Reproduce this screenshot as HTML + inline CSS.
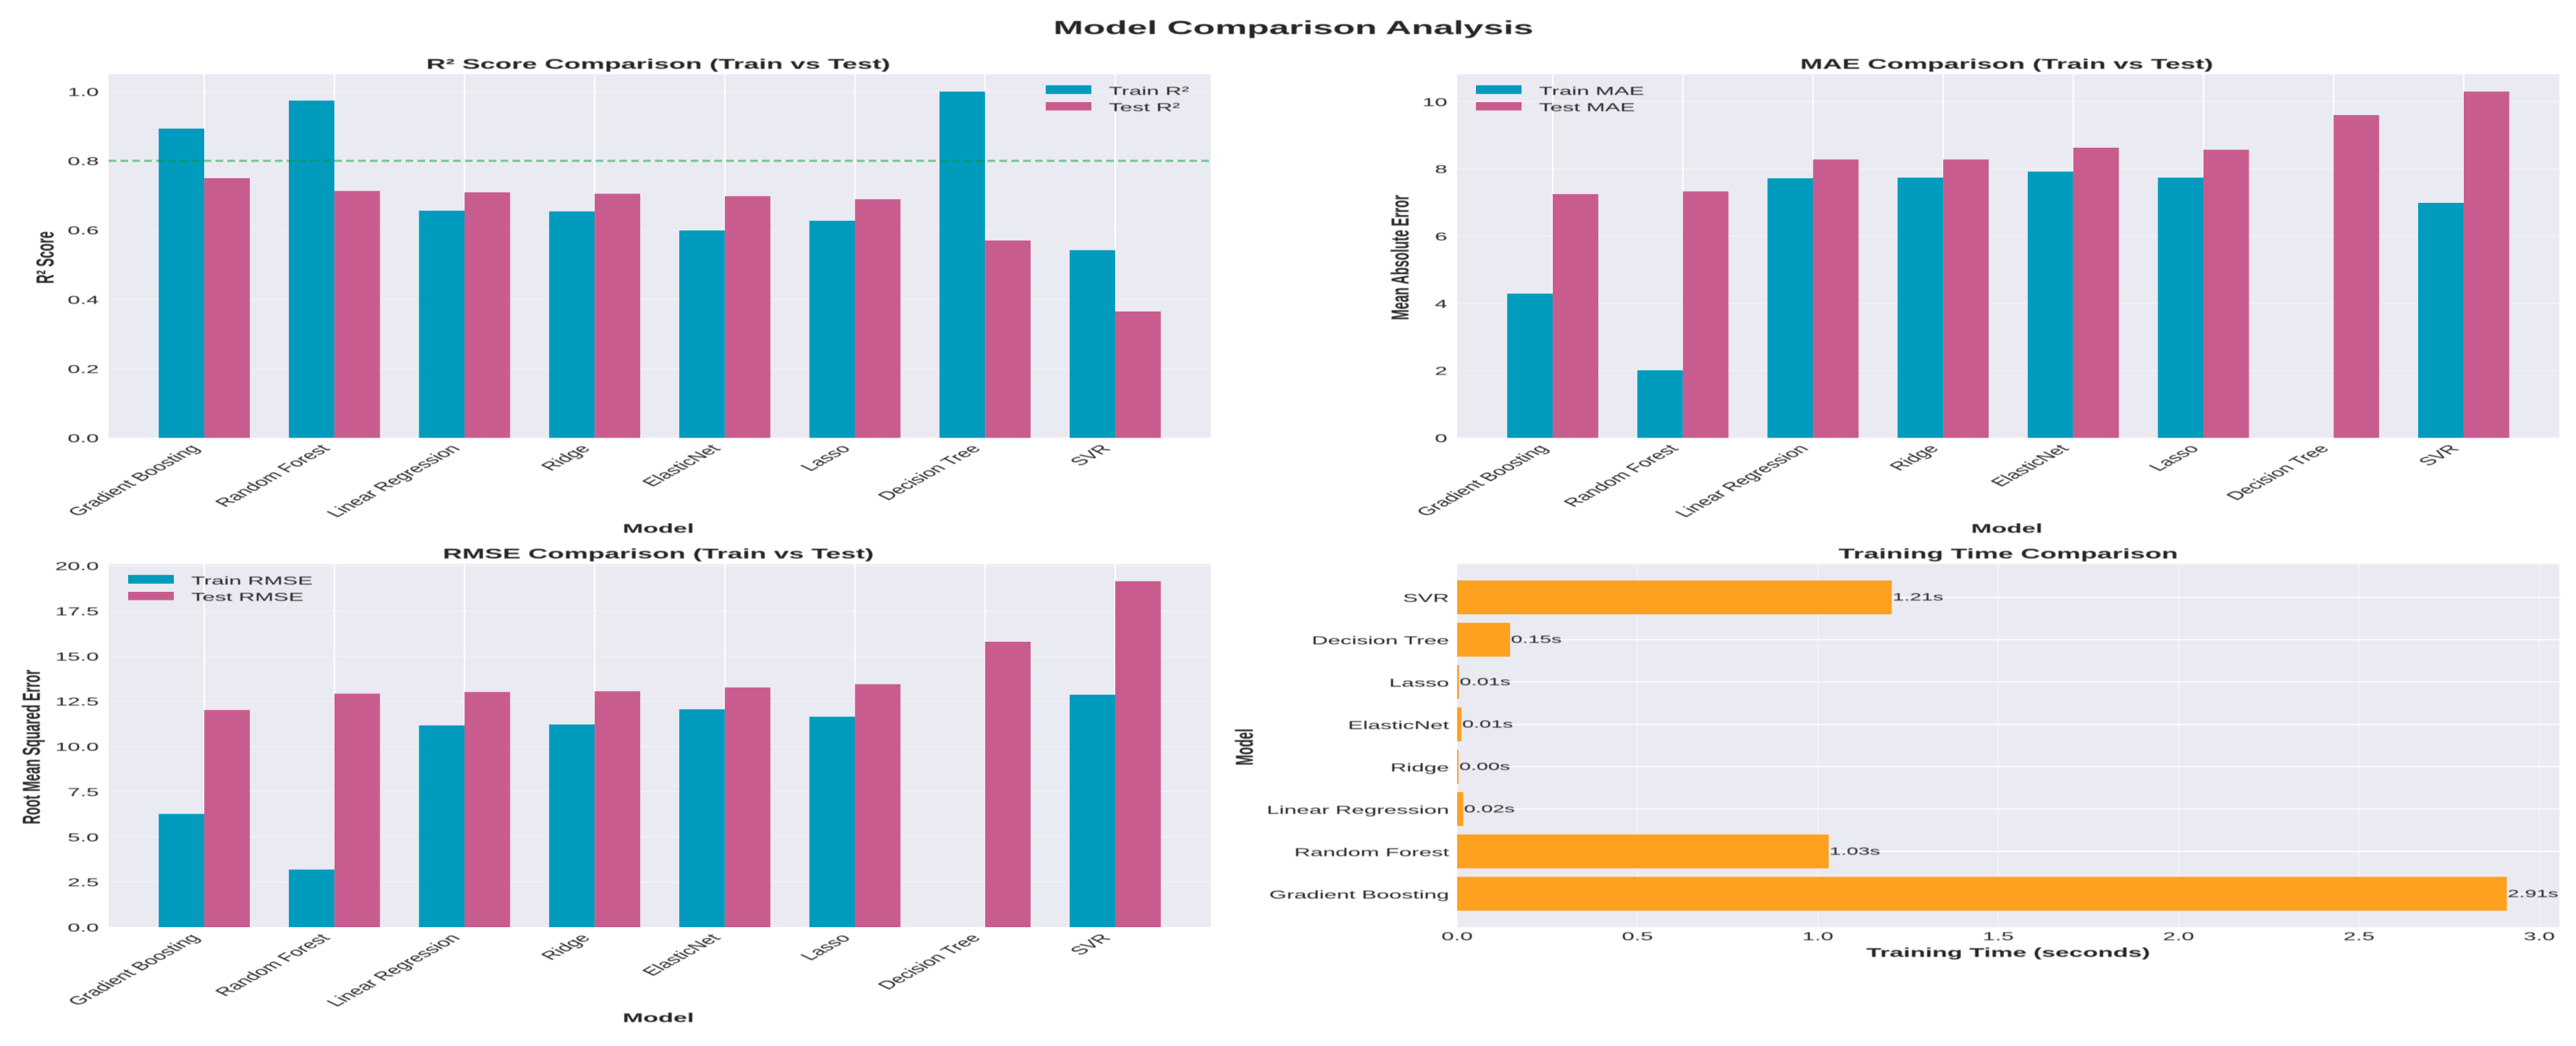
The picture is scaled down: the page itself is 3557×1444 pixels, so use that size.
<!DOCTYPE html>
<html lang="en">
<head>
<meta charset="utf-8">
<title>Model Comparison Analysis</title>
<style>
html,body{margin:0;padding:0;background:#fff;}
svg{display:block;}
text{font-family:"Liberation Sans",Arial,sans-serif;fill:#262626;}
#text-layer{filter:blur(0.55px);}
</style>
</head>
<body>
<svg id="figure" xmlns="http://www.w3.org/2000/svg" width="3557" height="1444" viewBox="0 0 3557 1444">
  <rect x="0" y="0" width="3557" height="1444" fill="#ffffff"/>
  <g id="marks-layer"></g>
  <g id="text-layer">
    <text transform="translate(1786,47) scale(1.94,1)" text-anchor="middle" font-size="25.6" font-weight="bold">Model Comparison Analysis</text>
  </g>
</svg>
<script>
// ---- chart data ----
const categories = ["Gradient Boosting","Random Forest","Linear Regression","Ridge","ElasticNet","Lasso","Decision Tree","SVR"];
const r2Train = [0.893,0.974,0.656,0.654,0.599,0.627,1.0,0.542];
const r2Test = [0.750,0.713,0.709,0.705,0.698,0.689,0.570,0.365];
const maeTrain = [4.29,2.01,7.72,7.74,7.92,7.74,0,6.99];
const maeTest = [7.25,7.33,8.28,8.28,8.63,8.57,9.60,10.30];
const rmseTrain = [6.27,3.19,11.17,11.22,12.06,11.65,0,12.87];
const rmseTest = [12.02,12.93,13.02,13.06,13.27,13.45,15.80,19.15];
const trainingTimes = [2.91,1.03,0.017,0.004,0.012,0.0051,0.147,1.205];
const r2Ticks = ["0.0","0.2","0.4","0.6","0.8","1.0"];
const maeTicks = ["0","2","4","6","8","10"];
const rmseTicks = ["0.0","2.5","5.0","7.5","10.0","12.5","15.0","17.5","20.0"];
const timeTicks = ["0.0","0.5","1.0","1.5","2.0","2.5","3.0"];
const r2Target = 0.8;

// ---- layout constants ----
const SX = 1.94;
const NS = "http://www.w3.org/2000/svg";
const marks = document.getElementById("marks-layer");
const texts = document.getElementById("text-layer");
const TEAL = "#009bbd", PINK = "#c95c8e", ORANGE = "#ffa120", PANEL = "#eaeaf2";
const BAR_WIDTH = 0.35;
const TICK_FONT = 16, LEGEND_FONT = 16, AXIS_FONT = 17.6, TITLE_FONT = 19.2, VALUE_FONT = 14.8;

function shape(tag, attrs, parent) {
  const n = document.createElementNS(NS, tag);
  for (const k in attrs) n.setAttribute(k, attrs[k]);
  (parent || marks).appendChild(n);
  return n;
}
function label(str, x, y, size, anchor, bold, rot) {
  const n = document.createElementNS(NS, "text");
  n.setAttribute("transform", "translate(" + x + "," + y + ") scale(" + SX + ",1)" + (rot ? " rotate(" + rot + ")" : ""));
  n.setAttribute("font-size", size);
  n.setAttribute("text-anchor", anchor);
  if (bold) n.setAttribute("font-weight", "bold");
  n.textContent = str;
  texts.appendChild(n);
  return n;
}
function maxOf(a, b) { return Math.max.apply(null, a.concat(b || [])); }

function drawGrouped(box, train, test, ticks, title, yLabel, yLabelX, legendBox, legendNames) {
  const width = box.right - box.left, height = box.bottom - box.top;
  const xMin = -BAR_WIDTH - 0.05 * (categories.length - 1 + 2 * BAR_WIDTH);
  const xMax = categories.length - 1 + BAR_WIDTH + 0.05 * (categories.length - 1 + 2 * BAR_WIDTH);
  const yMax = maxOf(train, test) * 1.05;
  const xScale = v => box.left + (v - xMin) / (xMax - xMin) * width;
  const yScale = v => box.bottom - v / yMax * height;

  const bg = shape("rect", {x: box.left, y: box.top, width: width, height: height, fill: PANEL});
  
  

  ticks.forEach(t => {
    const y = yScale(parseFloat(t));
    const g = shape("line", {x1: box.left, x2: box.right, y1: y, y2: y, stroke: "#ffffff", "stroke-opacity": 0.4, "stroke-width": 1.3});
    
    
    const tl = label(t, box.left - 13.5, y + 6, TICK_FONT, "end", false);
    
    
  });

  categories.forEach((c, i) => {
    const x = xScale(i);
    const v = shape("line", {x1: x, x2: x, y1: box.top, y2: box.bottom, stroke: "#ffffff", "stroke-width": 2});
    
    
    const barW = BAR_WIDTH / (xMax - xMin) * width;
    if (train[i] > 0) {
      const a = shape("rect", {x: x - barW, y: yScale(train[i]), width: barW, height: box.bottom - yScale(train[i]), fill: TEAL});
      
      
    }
    const b = shape("rect", {x: x, y: yScale(test[i]), width: barW, height: box.bottom - yScale(test[i]), fill: PINK});
    
    
    const tl = label(c, x - 5, box.bottom + 15.5, TICK_FONT, "end", false, -47);
    
    
  });

  const tt = label(title, (box.left + box.right) / 2 - 2, box.top - 7.5, TITLE_FONT, "middle", true);
  
  

  const xl = label("Model", (box.left + box.right) / 2 - 2, box.bottom + 131, AXIS_FONT, "middle", true);
  
  

  const yl = label(yLabel, yLabelX + 12, (box.top + box.bottom) / 2 + 2, AXIS_FONT, "middle", true, -90);
  
  

  const s1 = shape("rect", {x: legendBox.x, y: legendBox.y, width: 63, height: 12, fill: TEAL});
  
  
  const s2 = shape("rect", {x: legendBox.x, y: legendBox.y + 23.3, width: 63, height: 11.5, fill: PINK});
  
  
  const l1 = label(legendNames[0], legendBox.x + 87, legendBox.y + 13.5, LEGEND_FONT, "start", false);
  
  
  const l2 = label(legendNames[1], legendBox.x + 87, legendBox.y + 35.7, LEGEND_FONT, "start", false);
  
  

  return yScale;
}

function drawTiming(box) {
  const width = box.right - box.left, height = box.bottom - box.top;
  const xMax = maxOf(trainingTimes) * 1.05;
  const n = categories.length;
  const margin = 0.05 * (n - 1 + 0.8);
  const yMin = -0.4 - margin, yMax = n - 1 + 0.4 + margin;
  const xScale = v => box.left + v / xMax * width;
  const yScale = v => box.bottom - (v - yMin) / (yMax - yMin) * height;

  const bg = shape("rect", {x: box.left, y: box.top, width: width, height: height, fill: PANEL});
  
  

  timeTicks.forEach(t => {
    const x = xScale(parseFloat(t));
    const g = shape("line", {x1: x, x2: x, y1: box.top, y2: box.bottom, stroke: "#ffffff", "stroke-opacity": 0.4, "stroke-width": 2});
    
    
    const tl = label(t, x, box.bottom + 18, TICK_FONT, "middle", false);
    
    
  });

  categories.forEach((c, i) => {
    const y = yScale(i);
    const g = shape("line", {x1: box.left, x2: box.right, y1: y, y2: y, stroke: "#ffffff", "stroke-width": 1.4});
    
    
    const barH = 0.8 / (yMax - yMin) * height;
    const b = shape("rect", {x: box.left, y: y - barH / 2, width: xScale(trainingTimes[i]) - box.left, height: barH, fill: ORANGE});
    
    
    const tl = label(c, box.left - 11, y + 6.5, TICK_FONT, "end", false);
    
    
    const vl = label(trainingTimes[i].toFixed(2) + "s", xScale(trainingTimes[i]) + 1, y + 4.5, VALUE_FONT, "start", false);
    
    
  });

  const tt = label("Training Time Comparison", (box.left + box.right) / 2, box.top - 7.5, TITLE_FONT, "middle", true);
  
  
  const xl = label("Training Time (seconds)", (box.left + box.right) / 2, box.bottom + 41, AXIS_FONT, "middle", true);
  
  
  const yl = label("Model", 1730, (box.top + box.bottom) / 2 + 2, AXIS_FONT, "middle", true, -90);
  
  
}

const boxR2 = {left: 150, right: 1672, top: 102.5, bottom: 604.5};
const boxMae = {left: 2012, right: 3534, top: 102.5, bottom: 604.5};
const boxRmse = {left: 150, right: 1672, top: 778.5, bottom: 1280};
const boxTime = {left: 2012, right: 3534, top: 778.5, bottom: 1280};

const r2Y = drawGrouped(boxR2, r2Train, r2Test, r2Ticks, "R\u00b2 Score Comparison (Train vs Test)", "R\u00b2 Score", 62, {x: 1444, y: 117.7}, ["Train R\u00b2", "Test R\u00b2"]);
const target = shape("line", {x1: boxR2.left, x2: boxR2.right, y1: r2Y(r2Target), y2: r2Y(r2Target), stroke: "#00963c", "stroke-opacity": 0.5, "stroke-width": 3, "stroke-dasharray": "10.6 5.8"});


drawGrouped(boxMae, maeTrain, maeTest, maeTicks, "MAE Comparison (Train vs Test)", "Mean Absolute Error", 1933, {x: 2038, y: 117.7}, ["Train MAE", "Test MAE"]);
drawGrouped(boxRmse, rmseTrain, rmseTest, rmseTicks, "RMSE Comparison (Train vs Test)", "Root Mean Squared Error", 43, {x: 177, y: 793.7}, ["Train RMSE", "Test RMSE"]);
drawTiming(boxTime);
</script>
</body>
</html>
